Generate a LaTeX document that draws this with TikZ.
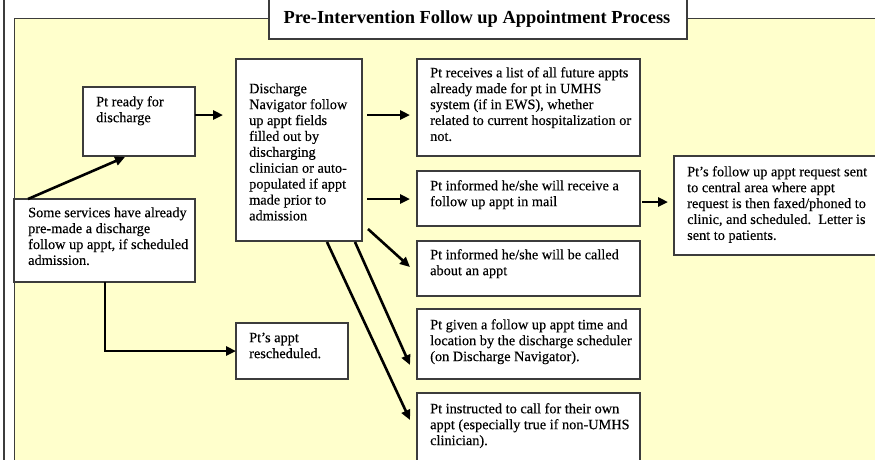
\documentclass[tikz,border=0pt]{standalone}
\usepackage{fontspec}
\setmainfont{Liberation Serif}[FakeBold=0.3]
\newfontfamily\titlefont{Liberation Serif}
\usetikzlibrary{arrows.meta,calc}
\definecolor{bgyellow}{RGB}{255,255,204}
\definecolor{frame}{RGB}{60,60,60}
\tikzset{
  boxst/.style={draw=frame, line width=1.3pt, fill=white, inner sep=0pt, outer sep=0pt},
  txtst/.style={inner sep=0pt, align=left, font=\fontsize{14.3}{15.9}\selectfont},
  arr/.style={line width=2.6pt, -{Triangle[length=10pt,width=9pt]}},
}
\newcommand\pbox[8]{%
  \node[boxst, minimum width={#4-#2}, minimum height={#5-#3}, anchor=north west] (#1) at (#2,#3) {};
  \node[txtst, anchor=north west] (#1t) at ($(#1.north west)+(#7,#6-10)$) {\rule{0pt}{10pt}#8};
}
\begin{document}
\begin{tikzpicture}[x=1pt,y=-1pt]
\useasboundingbox (0,0) rectangle (875,459);
\clip (0,0) rectangle (875,459);
% frames
\coordinate (fl1) at (4,-10);
\coordinate (fl2) at (4,480);
\draw[frame, line width=1.4pt] (fl1) -- (fl2);
\node[draw=frame, line width=1.4pt, fill=bgyellow, minimum width=900, minimum height=480, anchor=north west, inner sep=0pt] (bg) at (14,18) {};
% title
\node[boxst, minimum width=418, minimum height=50, anchor=north west] (title) at (269,-11) {};
\node[inner sep=0pt, anchor=base, font=\titlefont\fontsize{18.4}{20}\selectfont\bfseries] (titlet) at (477,23) {Pre-Intervention Follow up Appointment Process};
% boxes
\pbox{b1}{83}{87}{195}{156}{19}{13}{Pt ready for\\discharge}
\pbox{b2}{236}{59}{362}{241}{34}{13}{Discharge\\Navigator follow\\up appt fields\\filled out by\\discharging\\clinician or auto-\\populated if appt\\made prior to\\admission}
\pbox{b3}{14}{199}{195}{282}{18}{14}{Some services have already\\pre-made a discharge\\follow up appt, if scheduled\\admission.}
\pbox{b4}{236}{323}{348}{379}{19}{13}{Pt’s appt\\rescheduled.}
\pbox{b5}{417}{59}{640}{156}{18}{13}{Pt receives a list of all future appts\\already made for pt in UMHS\\system (if in EWS), whether\\related to current hospitalization or\\not.}
\pbox{b6}{417}{171}{640}{226}{19}{13}{Pt informed he/she will receive a\\follow up appt in mail}
\pbox{b7}{417}{241}{640}{296}{18}{13}{Pt informed he/she will be called\\about an appt}
\pbox{b8}{417}{309}{640}{379}{20}{13}{Pt given a follow up appt time and\\location by the discharge scheduler\\(on Discharge Navigator).}
\pbox{b9}{417}{393}{640}{490}{20}{13}{Pt instructed to call for their own\\appt (especially true if non-UMHS\\clinician).}
\pbox{b10}{674}{156}{890}{255}{20}{13}{Pt’s follow up appt request sent\\to central area where appt\\request is then faxed/phoned to\\clinic, and scheduled.\ \ Letter is\\sent to patients.}
% helper levels
\coordinate (y115) at (0,115);
\coordinate (y199) at (0,199);
\coordinate (y202) at (0,202);
% connectors
\draw[arr, shorten >=13pt] (b1.east |- y115) -- (b2.west |- y115);
\draw[arr] ($(b3.north west)+(14,0)$) -- ($(b1.south west)+(42,1)$);
\draw[arr, shorten <=5pt, shorten >=7pt] (b2.east |- y115) -- (b5.west |- y115);
\draw[arr, shorten <=5pt, shorten >=7pt] (b2.east |- y199) -- (b6.west |- y199);
\draw[arr] ($(b2.south east)+(6,-12)$) -- ($(b7.north west)+(-7,26)$);
\draw[arr] ($(b2.south east)+(-7,1)$) -- ($(b8.north west)+(-7,56)$);
\draw[arr] ($(b2.south east)+(-35,1)$) -- ($(b9.north west)+(-7,27)$);
\draw[arr] ($(b3.south west)+(91,0)$) |- (b4.west);
\draw[arr, shorten <=2pt, shorten >=6pt] (b6.east |- y202) -- (b10.west |- y202);
\end{tikzpicture}
\end{document}
